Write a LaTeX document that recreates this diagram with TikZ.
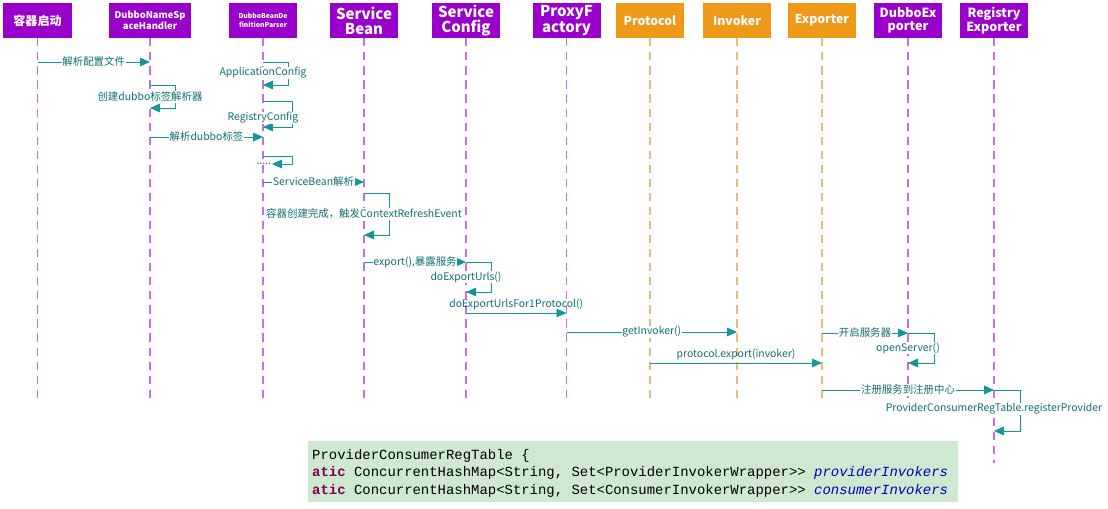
\documentclass[tikz,border=0pt]{standalone}
\usepackage{fontspec}
\setmainfont{Noto Sans CJK SC}
\setmonofont{Liberation Mono}
\usetikzlibrary{arrows.meta}
\definecolor{seqpurple}{RGB}{153,0,204}
\definecolor{seqorange}{RGB}{240,152,24}
\definecolor{linepurple}{RGB}{200,110,232}
\definecolor{lineorange}{RGB}{238,185,120}
\definecolor{msgteal}{RGB}{20,150,155}
\definecolor{codegreen}{RGB}{207,233,209}
\definecolor{kwred}{RGB}{127,0,85}
\definecolor{fieldblue}{RGB}{0,0,192}

\begin{document}
\begin{tikzpicture}[x=0.03cm, y=-0.03cm,
    head/.style={fill=seqpurple, text=white, minimum width=2.04cm, minimum height=1.05cm, inner sep=1pt, align=center},
    ohead/.style={head, fill=seqorange},
    life/.style={draw=linepurple, line width=1pt, dash pattern=on 7pt off 5pt},
    olife/.style={life, draw=lineorange},
    msg/.style={draw=msgteal, line width=0.8pt, -{Triangle[length=3mm,width=2.6mm]}},
    lbl/.style={fill=white, text=msgteal!75!black, font=\fontsize{8.9}{10}\selectfont, inner sep=0.6pt}
]
\useasboundingbox (0,0) rectangle (1108,509);
% participants
\node[head, font=\fontsize{10.3}{11}\selectfont\bfseries] (start) at (37.5,20.5) {容器启动};
\node[head, minimum width=2.43cm, font=\fontsize{8}{9.5}\selectfont\bfseries] (nsh) at (150,20.5) {DubboNameSp\\aceHandler};
\node[head, font=\fontsize{5.8}{7.5}\selectfont\bfseries] (parser) at (263,20.5) {DubboBeanDe\\finitionParser};
\node[head, font=\fontsize{12.8}{13}\selectfont\bfseries] (sbean) at (364,20.5) {Service\\Bean};
\node[head, font=\fontsize{12.8}{13}\selectfont\bfseries] (sconfig) at (466,20.5) {Service\\Config};
\node[head, font=\fontsize{12.8}{13}\selectfont\bfseries] (proxy) at (566.5,20.5) {ProxyF\\actory};
\node[ohead, font=\fontsize{10.5}{11}\selectfont\bfseries] (protocol) at (650,20.5) {Protocol};
\node[ohead, font=\fontsize{10.5}{11}\selectfont\bfseries] (invoker) at (737,20.5) {Invoker};
\node[ohead, font=\fontsize{10.5}{11}\selectfont\bfseries] (exporter) at (822,20.5) {Exporter};
\node[head, font=\fontsize{10.7}{11.5}\selectfont\bfseries] (dexporter) at (908,20.5) {DubboEx\\porter};
\node[head, font=\fontsize{10.7}{11.5}\selectfont\bfseries] (rexporter) at (994,20.5) {Registry\\Exporter};
% lifelines
\foreach \p in {start,nsh,parser,sbean,sconfig,proxy,dexporter}
  \draw[life] (\p.south) -- (\p.south |- 0,401);
\foreach \p in {protocol,invoker,exporter}
  \draw[olife] (\p.south) -- (\p.south |- 0,401);
\draw[life] (rexporter.south) -- (rexporter.south |- 0,463);
% messages
\draw[msg] (start |- 0,62) -- node[lbl] {解析配置文件} (nsh |- 0,62);
\draw[msg] (parser |- 0,62) -- ++(25,0) |- (parser |- 0,85);
\node[lbl] (appcfg) at (parser |- 0,73) {ApplicationConfig};
\draw[msg] (nsh |- 0,85) -- ++(25,0) |- (nsh |- 0,108);
\node[lbl] (create) at (nsh |- 0,97) {创建dubbo标签解析器};
\draw[msg] (parser |- 0,101) -- ++(29,0) |- (parser |- 0,127);
\node[lbl] (regcfg) at (parser |- 0,118) {RegistryConfig};
\draw[msg] (nsh |- 0,137) -- node[lbl] {解析dubbo标签} (parser |- 0,137);
\node[lbl, anchor=east] (dots) at (272,164) {.....};
\draw[msg] (parser |- 0,156) -- ++(29,0) |- (dots.east);
\draw[msg] (parser |- 0,182) -- node[lbl] {ServiceBean解析} (sbean |- 0,182);
\draw[msg] (sbean |- 0,193) -- ++(25,0) |- (sbean |- 0,235);
\node[lbl] (refresh) at (sbean |- 0,214) {容器创建完成，触发ContextRefreshEvent};
\draw[msg] (sbean |- 0,262) -- node[lbl] {export(),暴露服务} (sconfig |- 0,262);
\draw[msg] (sconfig |- 0,262) -- ++(25,0) |- (sconfig |- 0,292);
\node[lbl] (urls) at (sconfig |- 0,277) {doExportUrls()};
\draw[msg] (sconfig |- 0,313) -- node[lbl, above=1.5pt, fill=none] {doExportUrlsFor1Protocol()} (proxy |- 0,313);
\draw[msg] (proxy |- 0,332) -- node[lbl] {getInvoker()} (invoker |- 0,332);
\draw[msg] (protocol |- 0,363) -- node[lbl, above=1.5pt, fill=none] {protocol.export(invoker)} (exporter |- 0,363);
\draw[msg] (exporter |- 0,333) -- node[lbl] {开启服务器} (dexporter |- 0,333);
\draw[msg] (dexporter |- 0,333) -- ++(26,0) |- (dexporter |- 0,363);
\node[lbl] (open) at (dexporter |- 0,348) {openServer()};
\draw[msg] (exporter |- 0,390) -- node[lbl] {注册服务到注册中心} (rexporter |- 0,390);
\draw[msg] (rexporter |- 0,390) -- ++(26,0) |- (rexporter |- 0,431);
\node[lbl] (register) at (rexporter |- 0,409) {ProviderConsumerRegTable.registerProvider};
% code snippet
\node[fill=codegreen, anchor=north west, minimum width=19.5cm, minimum height=1.83cm] (code) at (308,441) {};
\node[anchor=north west, inner sep=0pt, align=left, font=\ttfamily\fontsize{11.9}{14.9}\selectfont] (codetext) at (312,449)
  {ProviderConsumerRegTable \{\\
   {\color{kwred}\bfseries atic} ConcurrentHashMap<String, Set<ProviderInvokerWrapper>{}> {\color{fieldblue}\itshape providerInvokers}\\
   {\color{kwred}\bfseries atic} ConcurrentHashMap<String, Set<ConsumerInvokerWrapper>{}> {\color{fieldblue}\itshape consumerInvokers}};
\end{tikzpicture}
\end{document}
